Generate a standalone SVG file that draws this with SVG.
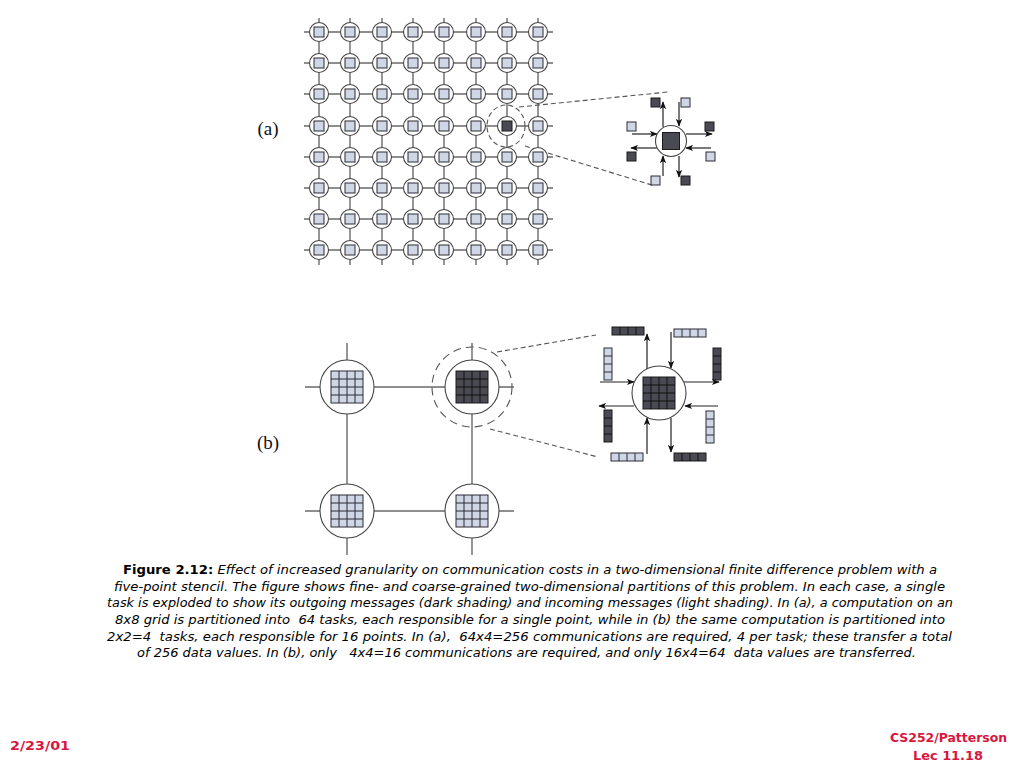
<svg xmlns="http://www.w3.org/2000/svg" xmlns:xlink="http://www.w3.org/1999/xlink" width="1024" height="768" viewBox="0 0 1024 768">
<style>
.ln{stroke:#6a6a6a;stroke-width:1.4;fill:none}
.dash{stroke:#555;stroke-width:1.1;fill:none;stroke-dasharray:5 3}
.dashb{stroke:#555;stroke-width:1.1;fill:none;stroke-dasharray:8 5}
.arr{stroke:#222;stroke-width:1.2;fill:none;marker-end:url(#ah)}
.ring{fill:#fff;stroke:#444;stroke-width:1.1}
.lt{fill:#cfd7e7;stroke:#2a2a35;stroke-width:1}
.dk{fill:#4a4a54;stroke:#1a1a1a;stroke-width:1}
.cap{font-family:"DejaVu Sans","Liberation Sans",sans-serif;font-style:italic;font-size:13px;fill:#000;white-space:pre}
.capb{font-style:normal;font-weight:bold}
.lab{font-family:"Liberation Serif","DejaVu Serif",serif;font-size:19px;fill:#111}
.foot{font-family:"DejaVu Sans","Liberation Sans",sans-serif;font-weight:bold;font-size:12px;fill:#d8173e}
</style>
<defs>
<marker id="ah" viewBox="0 0 10 8" refX="9" refY="4" markerWidth="8" markerHeight="7" markerUnits="userSpaceOnUse" orient="auto">
<path d="M0,0 L10,4 L0,8 L2.5,4 z" fill="#111"/>
</marker>
<g id="gnode"><circle r="9.5" class="ring"/><rect x="-5" y="-5" width="10" height="10" class="lt"/></g>
<g id="gnodeD"><circle r="9.5" class="ring"/><rect x="-5" y="-5" width="10" height="10" class="dk"/></g>
<g id="g4L"><rect x="0" y="0" width="32" height="32" class="lt"/><path d="M8,0V32M16,0V32M24,0V32M0,8H32M0,16H32M0,24H32" stroke="#2a2a35" stroke-width="1"/></g>
<g id="g4D"><rect x="0" y="0" width="32" height="32" class="dk"/><path d="M8,0V32M16,0V32M24,0V32M0,8H32M0,16H32M0,24H32" stroke="#111" stroke-width="1"/></g>
<g id="hL"><rect width="32" height="8" class="lt"/><path d="M8,0V8M16,0V8M24,0V8" stroke="#2a2a35"/></g>
<g id="hD"><rect width="32" height="8" class="dk"/><path d="M8,0V8M16,0V8M24,0V8" stroke="#111"/></g>
<g id="vL"><rect width="8" height="32" class="lt"/><path d="M0,8H8M0,16H8M0,24H8" stroke="#2a2a35"/></g>
<g id="vD"><rect width="8" height="32" class="dk"/><path d="M0,8H8M0,16H8M0,24H8" stroke="#111"/></g>
</defs>
<rect width="1024" height="768" fill="#fff"/>

<g id="connectors">
<path class="ln" d="M304,32H553M304,63H553M304,94H553M304,126H553M304,157H553M304,188H553M304,219H553M304,250H553
M319,18V265M350,18V265M382,18V265M413,18V265M444,18V265M476,18V265M507,18V265M538,18V265"/>
<ellipse class="dash" cx="506" cy="126" rx="19" ry="21"/>
<line class="dash" x1="519" y1="107" x2="668" y2="92"/>
<line class="dash" x1="525" y1="146" x2="655" y2="186"/>
<line class="arr" x1="663" y1="127" x2="663" y2="102"/>
<line class="arr" x1="679" y1="102" x2="679" y2="126"/>
<line class="arr" x1="632" y1="134" x2="657" y2="134"/>
<line class="arr" x1="686" y1="134" x2="712" y2="134"/>
<line class="arr" x1="657" y1="148" x2="631" y2="148"/>
<line class="arr" x1="711" y1="148" x2="686" y2="148"/>
<line class="arr" x1="663" y1="176" x2="663" y2="156"/>
<line class="arr" x1="679" y1="156" x2="679" y2="177"/>
<path class="ln" d="M347,343V360M472,343V360M305,387H320M305,511H320M499,387H514M499,511H514M347,538V555M472,538V555
M374,387H445M374,511H445M347,414V484M472,414V484"/>
<circle class="dashb" cx="472" cy="387" r="40"/>
<line class="dash" x1="497" y1="352" x2="596" y2="335"/>
<line class="dash" x1="490" y1="429" x2="598" y2="457"/>
<line class="arr" x1="647" y1="369" x2="647" y2="334"/>
<line class="arr" x1="671" y1="332" x2="671" y2="368"/>
<line class="arr" x1="600" y1="382" x2="634" y2="382"/>
<line class="arr" x1="684" y1="382" x2="719" y2="382"/>
<line class="arr" x1="634" y1="406" x2="599" y2="406"/>
<line class="arr" x1="718" y1="406" x2="685" y2="406"/>
<line class="arr" x1="647" y1="454" x2="647" y2="418"/>
<line class="arr" x1="671" y1="418" x2="671" y2="452"/>
</g>

<g id="grid-a">
<g id="a11" transform="translate(319,32)"><use href="#gnode"/></g>
<g id="a12" transform="translate(350,32)"><use href="#gnode"/></g>
<g id="a13" transform="translate(382,32)"><use href="#gnode"/></g>
<g id="a14" transform="translate(413,32)"><use href="#gnode"/></g>
<g id="a15" transform="translate(444,32)"><use href="#gnode"/></g>
<g id="a16" transform="translate(476,32)"><use href="#gnode"/></g>
<g id="a17" transform="translate(507,32)"><use href="#gnode"/></g>
<g id="a18" transform="translate(538,32)"><use href="#gnode"/></g>
<g id="a21" transform="translate(319,63)"><use href="#gnode"/></g>
<g id="a22" transform="translate(350,63)"><use href="#gnode"/></g>
<g id="a23" transform="translate(382,63)"><use href="#gnode"/></g>
<g id="a24" transform="translate(413,63)"><use href="#gnode"/></g>
<g id="a25" transform="translate(444,63)"><use href="#gnode"/></g>
<g id="a26" transform="translate(476,63)"><use href="#gnode"/></g>
<g id="a27" transform="translate(507,63)"><use href="#gnode"/></g>
<g id="a28" transform="translate(538,63)"><use href="#gnode"/></g>
<g id="a31" transform="translate(319,94)"><use href="#gnode"/></g>
<g id="a32" transform="translate(350,94)"><use href="#gnode"/></g>
<g id="a33" transform="translate(382,94)"><use href="#gnode"/></g>
<g id="a34" transform="translate(413,94)"><use href="#gnode"/></g>
<g id="a35" transform="translate(444,94)"><use href="#gnode"/></g>
<g id="a36" transform="translate(476,94)"><use href="#gnode"/></g>
<g id="a37" transform="translate(507,94)"><use href="#gnode"/></g>
<g id="a38" transform="translate(538,94)"><use href="#gnode"/></g>
<g id="a41" transform="translate(319,126)"><use href="#gnode"/></g>
<g id="a42" transform="translate(350,126)"><use href="#gnode"/></g>
<g id="a43" transform="translate(382,126)"><use href="#gnode"/></g>
<g id="a44" transform="translate(413,126)"><use href="#gnode"/></g>
<g id="a45" transform="translate(444,126)"><use href="#gnode"/></g>
<g id="a46" transform="translate(476,126)"><use href="#gnode"/></g>
<g id="a47" transform="translate(507,126)"><use href="#gnodeD"/></g>
<g id="a48" transform="translate(538,126)"><use href="#gnode"/></g>
<g id="a51" transform="translate(319,157)"><use href="#gnode"/></g>
<g id="a52" transform="translate(350,157)"><use href="#gnode"/></g>
<g id="a53" transform="translate(382,157)"><use href="#gnode"/></g>
<g id="a54" transform="translate(413,157)"><use href="#gnode"/></g>
<g id="a55" transform="translate(444,157)"><use href="#gnode"/></g>
<g id="a56" transform="translate(476,157)"><use href="#gnode"/></g>
<g id="a57" transform="translate(507,157)"><use href="#gnode"/></g>
<g id="a58" transform="translate(538,157)"><use href="#gnode"/></g>
<g id="a61" transform="translate(319,188)"><use href="#gnode"/></g>
<g id="a62" transform="translate(350,188)"><use href="#gnode"/></g>
<g id="a63" transform="translate(382,188)"><use href="#gnode"/></g>
<g id="a64" transform="translate(413,188)"><use href="#gnode"/></g>
<g id="a65" transform="translate(444,188)"><use href="#gnode"/></g>
<g id="a66" transform="translate(476,188)"><use href="#gnode"/></g>
<g id="a67" transform="translate(507,188)"><use href="#gnode"/></g>
<g id="a68" transform="translate(538,188)"><use href="#gnode"/></g>
<g id="a71" transform="translate(319,219)"><use href="#gnode"/></g>
<g id="a72" transform="translate(350,219)"><use href="#gnode"/></g>
<g id="a73" transform="translate(382,219)"><use href="#gnode"/></g>
<g id="a74" transform="translate(413,219)"><use href="#gnode"/></g>
<g id="a75" transform="translate(444,219)"><use href="#gnode"/></g>
<g id="a76" transform="translate(476,219)"><use href="#gnode"/></g>
<g id="a77" transform="translate(507,219)"><use href="#gnode"/></g>
<g id="a78" transform="translate(538,219)"><use href="#gnode"/></g>
<g id="a81" transform="translate(319,250)"><use href="#gnode"/></g>
<g id="a82" transform="translate(350,250)"><use href="#gnode"/></g>
<g id="a83" transform="translate(382,250)"><use href="#gnode"/></g>
<g id="a84" transform="translate(413,250)"><use href="#gnode"/></g>
<g id="a85" transform="translate(444,250)"><use href="#gnode"/></g>
<g id="a86" transform="translate(476,250)"><use href="#gnode"/></g>
<g id="a87" transform="translate(507,250)"><use href="#gnode"/></g>
<g id="a88" transform="translate(538,250)"><use href="#gnode"/></g>
</g>

<g id="explode-a">
<circle cx="671" cy="141" r="15.5" class="ring"/>
<rect x="662.5" y="132.5" width="17" height="17" class="dk"/>
<rect x="651" y="98" width="9" height="9" class="dk"/>
<rect x="681" y="98" width="9" height="9" class="lt"/>
<rect x="627" y="122" width="9" height="9" class="lt"/>
<rect x="705" y="122" width="9" height="9" class="dk"/>
<rect x="627" y="152" width="9" height="9" class="dk"/>
<rect x="706" y="152" width="9" height="9" class="lt"/>
<rect x="651" y="176" width="9" height="9" class="lt"/>
<rect x="681" y="176" width="9" height="9" class="dk"/>
</g>

<g id="b-tl"><circle cx="347" cy="387" r="27" class="ring"/><use href="#g4L" x="331" y="371"/></g>
<g id="b-tr"><circle cx="472" cy="387" r="27" class="ring"/><use href="#g4D" x="456" y="371"/></g>
<g id="b-bl"><circle cx="347" cy="511" r="27" class="ring"/><use href="#g4L" x="331" y="495"/></g>
<g id="b-br"><circle cx="472" cy="511" r="27" class="ring"/><use href="#g4L" x="456" y="495"/></g>

<g id="explode-b">
<circle cx="659" cy="393" r="27" class="ring"/>
<use href="#g4D" x="643" y="377"/>
<use href="#hD" x="612" y="327"/>
<use href="#hL" x="674" y="329"/>
<use href="#vL" x="604" y="348"/>
<use href="#vD" x="713" y="348"/>
<use href="#vD" x="604" y="410"/>
<use href="#vL" x="706" y="411"/>
<use href="#hL" x="611" y="453"/>
<use href="#hD" x="674" y="453"/>
</g>

<text class="lab" x="268" y="135" text-anchor="middle">(a)</text>
<text class="lab" x="268" y="449" text-anchor="middle">(b)</text>

<g id="caption">
<text class="cap" x="530" y="574" text-anchor="middle" textLength="814" lengthAdjust="spacingAndGlyphs"><tspan class="capb">Figure 2.12:</tspan> Effect of increased granularity on communication costs in a two-dimensional finite difference problem with a</text>
<text class="cap" x="529.5" y="591" text-anchor="middle" textLength="831" lengthAdjust="spacingAndGlyphs">five-point stencil. The figure shows fine- and coarse-grained two-dimensional partitions of this problem. In each case, a single</text>
<text class="cap" x="530" y="607" text-anchor="middle" textLength="846" lengthAdjust="spacingAndGlyphs">task is exploded to show its outgoing messages (dark shading) and incoming messages (light shading). In (a), a computation on an</text>
<text class="cap" x="530" y="624" text-anchor="middle" textLength="830" lengthAdjust="spacingAndGlyphs">8x8 grid is partitioned into  64 tasks, each responsible for a single point, while in (b) the same computation is partitioned into</text>
<text class="cap" x="529.5" y="641" text-anchor="middle" textLength="845" lengthAdjust="spacingAndGlyphs">2x2=4  tasks, each responsible for 16 points. In (a),  64x4=256 communications are required, 4 per task; these transfer a total</text>
<text class="cap" x="526.5" y="657" text-anchor="middle" textLength="779" lengthAdjust="spacingAndGlyphs">of 256 data values. In (b), only   4x4=16 communications are required, and only 16x4=64  data values are transferred.</text>
</g>

<g id="footer">
<text class="foot" x="10" y="750" textLength="60" lengthAdjust="spacingAndGlyphs">2/23/01</text>
<text class="foot" x="948.5" y="742" text-anchor="middle" textLength="117" lengthAdjust="spacingAndGlyphs">CS252/Patterson</text>
<text class="foot" x="948" y="760" text-anchor="middle" textLength="70" lengthAdjust="spacingAndGlyphs">Lec 11.18</text>
</g>
</svg>
